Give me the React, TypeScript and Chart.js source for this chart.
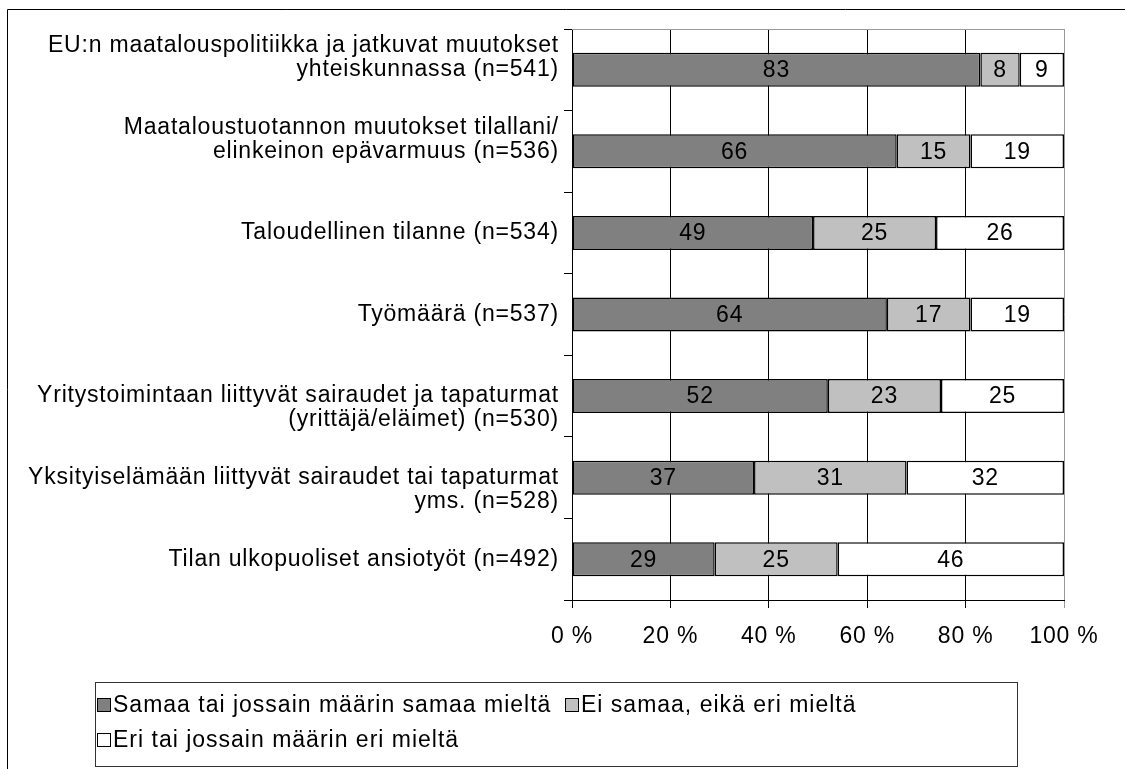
import React, { useEffect, useRef } from "react";
import { Chart, registerables } from "chart.js";
Chart.register(...registerables);

const categories: string[][] = [
  ["EU:n maatalouspolitiikka ja jatkuvat muutokset", "yhteiskunnassa (n=541)"],
  ["Maataloustuotannon muutokset tilallani/", "elinkeinon epävarmuus (n=536)"],
  ["Taloudellinen tilanne (n=534)"],
  ["Työmäärä (n=537)"],
  ["Yritystoimintaan liittyvät sairaudet ja tapaturmat", "(yrittäjä/eläimet) (n=530)"],
  ["Yksityiselämään liittyvät sairaudet tai tapaturmat", "yms. (n=528)"],
  ["Tilan ulkopuoliset ansiotyöt (n=492)"],
];

const seriesNames = [
  "Samaa tai jossain määrin samaa mieltä",
  "Ei samaa, eikä eri mieltä",
  "Eri tai jossain määrin eri mieltä",
];

const agree = [83, 66, 49, 64, 52, 37, 29];
const neutral = [8, 15, 25, 17, 23, 31, 25];
const disagree = [9, 19, 26, 19, 25, 32, 46];

const xTicks = [0, 20, 40, 60, 80, 100];
const seriesColors = ["#808080", "#C0C0C0", "#FFFFFF"];

const FONT = "'Liberation Sans', Arial, sans-serif";
const FS = 23;

const customPlugin = {
  id: "custom",
  beforeDraw(chart: any) {
    (chart.ctx as any).letterSpacing = "0.8px";
  },
  afterDatasetsDraw(chart: any) {
    const ctx = chart.ctx;
    ctx.save();
    ctx.font = `${FS}px ${FONT}`;
    ctx.fillStyle = "#000";
    ctx.textAlign = "center";
    ctx.textBaseline = "middle";
    chart.data.datasets.forEach((ds: any, di: number) => {
      const meta = chart.getDatasetMeta(di);
      meta.data.forEach((el: any, i: number) => {
        const cx = (el.x + el.base) / 2;
        ctx.fillText(String(ds.data[i]), cx, el.y + 1);
      });
    });
    ctx.restore();
  },
  afterDraw(chart: any) {
    const ctx = chart.ctx;
    const ca = chart.chartArea;
    ctx.save();
    // plot area top border
    ctx.strokeStyle = "#999";
    ctx.lineWidth = 1;
    ctx.beginPath();
    ctx.moveTo(ca.left, Math.round(ca.top) + 0.5);
    ctx.lineTo(ca.right, Math.round(ca.top) + 0.5);
    ctx.stroke();
    // outer frame
    ctx.strokeStyle = "#000";
    ctx.beginPath();
    ctx.moveTo(7.5, chart.height);
    ctx.lineTo(7.5, 9.5);
    ctx.lineTo(chart.width, 9.5);
    ctx.stroke();
    // legend box
    ctx.strokeStyle = "#333";
    ctx.strokeRect(95.5, 682.5, 922, 84);
    const items = [
      { x: 97, y: 705 },
      { x: 565, y: 705 },
      { x: 97, y: 740 },
    ];
    ctx.font = `${FS}px ${FONT}`;
    (ctx as any).letterSpacing = "1px";
    ctx.textAlign = "left";
    ctx.textBaseline = "middle";
    chart.data.datasets.forEach((ds: any, i: number) => {
      const it = items[i];
      ctx.fillStyle = ds.backgroundColor;
      ctx.fillRect(it.x + 0.5, it.y - 6.5, 13, 13);
      ctx.strokeStyle = "#000";
      ctx.strokeRect(it.x + 0.5, it.y - 6.5, 13, 13);
      ctx.fillStyle = "#000";
      ctx.fillText(ds.label, it.x + 16, it.y + 1);
    });
    ctx.restore();
  },
};

export default function App() {
  const ref = useRef<HTMLCanvasElement>(null);
  useEffect(() => {
    const canvas = ref.current!;
    const mk = (i: number, data: number[]) => ({
      label: seriesNames[i],
      data,
      backgroundColor: seriesColors[i],
      borderColor: "#000",
      borderWidth: 1.5,
      borderSkipped: false,
      barPercentage: 0.417,
      categoryPercentage: 1,
    });
    const chart = new Chart(canvas, {
      type: "bar",
      data: {
        labels: categories as any,
        datasets: [mk(0, agree), mk(1, neutral), mk(2, disagree)] as any,
      },
      options: {
        indexAxis: "y",
        responsive: false,
        animation: false,
        layout: { padding: { left: 0, top: 29, right: 61, bottom: 119 } },
        plugins: { legend: { display: false }, tooltip: { enabled: false } },
        scales: {
          x: {
            stacked: true,
            min: 0,
            max: 100,
            afterBuildTicks: (s: any) => {
              s.ticks = xTicks.map((v) => ({ value: v }));
            },
            ticks: {
              callback: (v: any) => v + " %",
              color: "#000",
              font: { family: FONT, size: FS },
              padding: 15,
              maxRotation: 0,
            },
            grid: {
              color: (c: any) => (c.tick && c.tick.value === 100 ? "#999" : "#000"),
              tickLength: 8,
              lineWidth: 1,
            },
            border: { color: "#000", width: 1 },
            afterFit: (s: any) => {
              s.height = 50;
              s.paddingLeft = 0;
              s.paddingRight = 0;
            },
          } as any,
          y: {
            stacked: true,
            ticks: {
              autoSkip: false,
              callback: (_v: any, i: number) => {
                const lines = categories[i];
                if (lines.length === 2) {
                  return i < 2 ? [...lines, ""] : ["", ...lines];
                }
                return lines;
              },
              color: "#000",
              font: { family: FONT, size: FS, lineHeight: "24px" },
              padding: 5,
            },
            grid: {
              offset: true,
              drawOnChartArea: false,
              tickLength: 8,
              color: "#000",
            },
            border: { color: "#000", width: 1 },
            afterFit: (s: any) => {
              s.width = 572;
              s.paddingTop = 0;
              s.paddingBottom = 0;
            },
          } as any,
        },
      },
      plugins: [customPlugin],
    });
    return () => chart.destroy();
  }, []);
  return (
    <canvas
      ref={ref}
      width={1125}
      height={769}
      style={{ position: "absolute", left: 0, top: 0, width: 1125, height: 769 }}
    />
  );
}
